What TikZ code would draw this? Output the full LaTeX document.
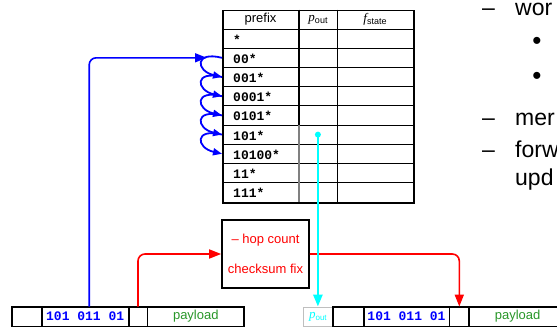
\documentclass[tikz,border=0pt]{standalone}
\usepackage{fontspec}
\setmainfont{Liberation Sans}
\setmonofont{Liberation Mono}
\newfontfamily\serifit{Liberation Serif}
\usetikzlibrary{arrows.meta}
\definecolor{payloadgreen}{RGB}{40,150,40}
\definecolor{lookup}{RGB}{0,255,255}
\newcommand{\pout}[1][9]{{\serifit\itshape p}{\fontsize{#1}{#1}\selectfont\raisebox{-2pt}{out}}}
\newcommand{\fstate}{{\serifit\itshape f}{\fontsize{9}{9}\selectfont\raisebox{-2pt}{state}}}
\tikzset{
  cell/.style={draw, line width=0.8pt, minimum height=19pt, inner sep=0pt, anchor=west},
  txt/.style={font=\fontsize{13}{13}\selectfont, inner sep=0pt},
  bits/.style={font=\fontsize{13}{13}\selectfont\ttfamily\bfseries, inner sep=0pt},
  flow/.style={line width=1.6pt, rounded corners=7pt, -{Triangle[length=12pt,width=9pt]}},
  loopar/.style={blue, line width=1.8pt, -{Triangle[length=9pt,width=7pt]}},
  big/.style={font=\fontsize{23}{23}\selectfont, inner sep=0pt, anchor=base west}
}

\begin{document}
\begin{tikzpicture}[x=1pt,y=-1pt]
  \useasboundingbox (0,0) rectangle (557,327);
  \clip (0,0) rectangle (557,327);
  % forwarding table
  \node[draw, line width=1.6pt, minimum width=191pt, minimum height=192.5pt, anchor=north west, inner sep=0pt] (tbl) at (222,9.5) {};
  \foreach \k in {0,...,8} \draw[line width=1pt] (222,29+19.2*\k) -- (413,29+19.2*\k);
  \draw[line width=1.3pt] (299,9.5) -- (299,125); \draw[gray, line width=1.3pt] (299,125) -- (299,202);
  \draw[line width=0.9pt] (337,9.5) -- (337,202);
  \node[txt] (hpre) at (260.5,19.5) {prefix};
  \node[txt] (hout) at (318,19.5) {\pout};
  \node[txt] (hst) at (375,19.5) {\fstate};
  \foreach \p [count=\i] in {*,00*,001*,0001*,0101*,101*,10100*,11*,111*}
    \node[bits, anchor=west, text height=11pt, text depth=0pt] (r\i) at (233,19.4+19.2*\i) {\p};
  % lookup steps
  \foreach \i/\j in {2/3,3/4,4/5,5/6,6/7}
    \draw[loopar] (tbl.west |- r\i) .. controls +(-28,-7) and +(-26,-6) .. (tbl.west |- r\j);
  % incoming packet
  \node[cell, minimum width=29pt] (a1) at (12,316.5) {};
  \node[cell, bits, text=blue, minimum width=86pt] (a2) at (a1.east) {101 011 01};
  \node[cell, minimum width=18pt] (a3) at (a2.east) {};
  \node[cell, txt, text=payloadgreen, minimum width=96pt] (a4) at (a3.east) {payload};
  \draw[line width=1.6pt] (a1.north west) rectangle (a3.south east);
  \draw[line width=1.6pt] (a4.north west) rectangle (a4.south east);
  % outgoing packet
  \node[cell, draw=gray!50, txt, text=lookup, minimum width=29pt] (b0) at (303,316.5) {\pout[8]};
  \node[cell, minimum width=30pt] (b1) at (b0.east) {};
  \node[cell, bits, text=blue, minimum width=85pt] (b2) at (b1.east) {101 011 01};
  \node[cell, minimum width=19pt] (b3) at (b2.east) {};
  \node[cell, txt, text=payloadgreen, minimum width=96pt] (b4) at (b3.east) {payload};
  \draw[line width=1.6pt] (b1.north west) rectangle (b3.south east);
  \draw[line width=1.6pt] (b4.north west) rectangle (b4.south east);
  % header update
  \node[draw, line width=1.6pt, minimum width=87pt, minimum height=68pt, align=center, text=red, font=\fontsize{13}{29.5}\selectfont] (hop) at (265.5,254) {– hop count\\checksum fix};
  % connectors
  \path (tbl.west |- r2) ++(-15,0) coordinate (bin);
  \draw[flow, blue] ([xshift=4pt]a2.north) |- (bin);
  \draw[flow, red] (a3.north) |- (hop.west);
  \draw[flow, red] (hop.east) -| (b3.north);
  \fill[lookup] (b0 |- r6) circle (3pt);
  \draw[flow, lookup, line width=2.6pt] (b0 |- r6) -- (b0.north);
  % slide text
  \node[big] (d1) at (482,15) {–}; \node[big] (w1) at (515,15) {wor};
  \node[font=\fontsize{26}{26}\selectfont, inner sep=0pt] (bu1) at (537,43) {•};
  \node[font=\fontsize{26}{26}\selectfont, inner sep=0pt] (bu2) at (537,78) {•};
  \node[big] (d2) at (482,125) {–}; \node[big] (w2) at (515,125) {mer};
  \node[big] (d3) at (482,157) {–}; \node[big] (w3) at (515,157) {forw};
  \node[big] (w4) at (515,185) {upd};
\end{tikzpicture}
\end{document}
